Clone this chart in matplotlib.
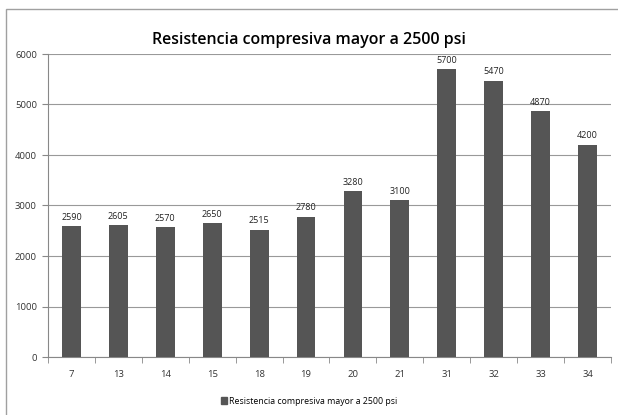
import matplotlib.pyplot as plt
import matplotlib.patches as mpatches
import numpy as np

categories = ["7", "13", "14", "15", "18", "19", "20", "21", "31", "32", "33", "34"]
values = [2590, 2605, 2570, 2650, 2515, 2780, 3280, 3100, 5700, 5470, 4870, 4200]
series_name = "Resistencia compresiva mayor a 2500 psi"
title = "Resistencia compresiva mayor a 2500 psi"

plt.rcParams["font.family"] = ["Open Sans", "DejaVu Sans"]

fig = plt.figure(figsize=(6.18, 4.15), dpi=100)
fig.patch.set_facecolor("white")

# outer chart border (partly cropped, like the source)
fig.patches.append(mpatches.Rectangle((6 / 618, -0.05), 1.2, 1 - 9 / 415 + 0.05,
                                      transform=fig.transFigure, fill=False,
                                      edgecolor="#a0a0a0", linewidth=1.0))

ax = fig.add_axes([48 / 618, 1 - 357 / 415, (611 - 48) / 618, (357 - 54) / 415])

x = np.arange(len(categories))
bars = ax.bar(x, values, width=0.4, color="#555555", zorder=3, label=series_name)

for xi, v in zip(x, values):
    ax.text(xi, v + 90, str(v), ha="center", va="bottom", fontsize=6.5, color="#222222")

ax.set_xlim(-0.5, len(categories) - 0.5)
ax.set_ylim(0, 6000)
ax.set_yticks(np.arange(0, 6001, 1000))
ax.set_xticks(x)
ax.set_xticklabels(categories)
ax.set_xticks(np.arange(-0.5, len(categories), 1), minor=True)
ax.tick_params(axis="x", which="major", length=0, pad=9, labelsize=6.8, labelcolor="#333333")
ax.tick_params(axis="x", which="minor", length=4, color="#888888", direction="out")
ax.tick_params(axis="y", length=4, color="#888888", labelsize=6.8, labelcolor="#333333", pad=4)

ax.grid(axis="y", color="#999999", linewidth=0.8, zorder=0)
for side in ["top", "right"]:
    ax.spines[side].set_visible(False)
ax.spines["left"].set_color("#888888")
ax.spines["bottom"].set_color("#888888")

fig.text(0.5, 1 - 40 / 415, title, ha="center", va="center", fontsize=11.5, fontweight="semibold",
         color="#000000")

fig.legend(handles=[mpatches.Patch(color="#555555", label=series_name)],
           loc="center", bbox_to_anchor=(0.5, 1 - 401 / 415), frameon=False,
           fontsize=6.3, handlelength=0.7, handleheight=0.7, handletextpad=0.3)

plt.savefig("out.png", dpi=100)
